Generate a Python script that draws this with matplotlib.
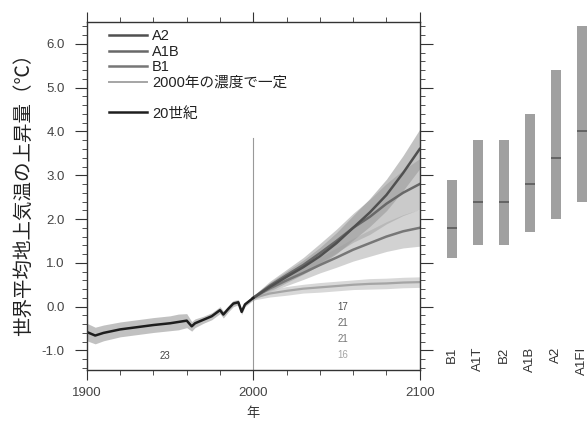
import matplotlib
matplotlib.use("Agg")
import matplotlib.pyplot as plt
from matplotlib.lines import Line2D
import numpy as np

plt.rcParams['font.family'] = ['Liberation Sans', 'Noto Sans CJK JP', 'DejaVu Sans']

# 20世紀
hist_years = [1900, 1905, 1910, 1920, 1930, 1940, 1950, 1955, 1960, 1963, 1965,
              1970, 1975, 1980, 1982, 1985, 1988, 1991, 1993, 1995, 2000]
hist_vals = [-0.58, -0.66, -0.6, -0.52, -0.47, -0.42, -0.38, -0.35, -0.32, -0.45, -0.38,
             -0.3, -0.22, -0.08, -0.18, -0.05, 0.07, 0.1, -0.12, 0.05, 0.2]
hist_spread = [0.2, 0.19, 0.18, 0.17, 0.17, 0.17, 0.17, 0.18, 0.16, 0.11, 0.1,
               0.08, 0.08, 0.08, 0.08, 0.07, 0.07, 0.06, 0.06, 0.05, 0.05]

# シナリオ
fut_years = [2000, 2010, 2020, 2030, 2040, 2050, 2060, 2070, 2080, 2090, 2100]
a2 = [0.2, 0.45, 0.68, 0.9, 1.15, 1.45, 1.8, 2.15, 2.55, 3.05, 3.6]
a1b = [0.2, 0.48, 0.72, 0.95, 1.22, 1.5, 1.8, 2.05, 2.35, 2.6, 2.8]
b1 = [0.2, 0.42, 0.6, 0.77, 0.95, 1.12, 1.3, 1.45, 1.6, 1.72, 1.8]
const = [0.2, 0.3, 0.36, 0.41, 0.44, 0.47, 0.5, 0.52, 0.53, 0.55, 0.56]
a2_spread = [0.05, 0.1, 0.13, 0.16, 0.2, 0.24, 0.28, 0.32, 0.36, 0.4, 0.45]
a1b_spread = [0.05, 0.1, 0.13, 0.17, 0.22, 0.27, 0.33, 0.4, 0.46, 0.52, 0.58]
b1_spread = [0.05, 0.09, 0.12, 0.15, 0.18, 0.22, 0.26, 0.3, 0.34, 0.38, 0.42]
const_spread = [0.05, 0.08, 0.1, 0.1, 0.11, 0.11, 0.11, 0.12, 0.12, 0.12, 0.12]

# モデル数
n_models = ['17', '21', '21', '16']
n_hist = '23'

# 右側の棒 (2090-2099 の予測範囲)
bar_names = ['B1', 'A1T', 'B2', 'A1B', 'A2', 'A1FI']
bar_best = [1.8, 2.4, 2.4, 2.8, 3.4, 4.0]
bar_low = [1.1, 1.4, 1.4, 1.7, 2.0, 2.4]
bar_high = [2.9, 3.8, 3.8, 4.4, 5.4, 6.4]

c_a2 = '#505050'
c_a1b = '#686868'
c_b1 = '#777777'
c_const = '#a5a5a5'
c_hist = '#1e1e1e'
c_ax = '#333333'

fig = plt.figure(figsize=(5.87, 4.23), dpi=100)
ax = fig.add_axes([0.148, 0.125, 0.567, 0.823])

hy = np.array(hist_years)
hv = np.array(hist_vals)
hs = np.array(hist_spread)
fy = np.array(fut_years)

ax.fill_between(hy, hv - hs, hv + hs, color='#999999', alpha=0.6, lw=0)
ax.fill_between(fy, np.array(b1) - b1_spread, np.array(b1) + b1_spread, color='#b5b5b5', alpha=0.6, lw=0)
ax.fill_between(fy, np.array(a1b) - a1b_spread, np.array(a1b) + a1b_spread, color='#a8a8a8', alpha=0.6, lw=0)
ax.fill_between(fy, np.array(a2) - a2_spread, np.array(a2) + a2_spread, color='#9a9a9a', alpha=0.6, lw=0)
ax.fill_between(fy, np.array(const) - const_spread, np.array(const) + const_spread, color='#c8c8c8', alpha=0.7, lw=0)

ax.axvline(2000, ymin=0, ymax=(3.85 + 1.45) / 7.95, color='#999999', lw=0.8)

ax.plot(fy, const, color=c_const, lw=1.6)
ax.plot(fy, b1, color=c_b1, lw=1.8)
ax.plot(fy, a1b, color=c_a1b, lw=1.8)
ax.plot(fy, a2, color=c_a2, lw=1.8)
ax.plot(hy, hv, color=c_hist, lw=1.8)

ax.text(1947, -1.12, n_hist, color='#444444', fontsize=7, ha='center', va='center')
num_colors = [c_a2, c_a1b, c_b1, c_const]
for i, (n, c) in enumerate(zip(n_models, num_colors)):
    ax.text(2054, 0.0 - 0.37 * i, n, color=c, fontsize=7, ha='center', va='center')

ax.set_xlim(1900, 2100)
ax.set_ylim(-1.45, 6.5)
ax.set_xticks([1900, 2000, 2100])
ax.set_xticks(np.arange(1900, 2101, 20), minor=True)
ax.set_yticks(np.arange(-1, 6.1, 1))
ax.set_yticks(np.arange(-1.4, 6.5, 0.2), minor=True)
ax.set_yticklabels(['%.1f' % v for v in np.arange(-1, 6.1, 1)])
ax.tick_params(which='both', direction='out', color=c_ax, labelsize=9.5, labelcolor='#444444',
               top=True, right=True)
ax.tick_params(which='major', length=7)
ax.tick_params(which='minor', length=3.5)
ax.tick_params(axis='y', which='major', length=9, pad=7)
ax.tick_params(axis='x', which='major', pad=5)
for s in ax.spines.values():
    s.set_color(c_ax)
    s.set_linewidth(1.0)

ax.set_xlabel('年', fontsize=9.5, color='#333333', labelpad=6)
ax.set_ylabel('世界平均地上気温の上昇量（℃）', fontsize=14, color='#222222')
ax.yaxis.set_label_coords(-0.162, 0.517)

handles = [Line2D([], [], color=c_a2, lw=1.8),
           Line2D([], [], color=c_a1b, lw=1.8),
           Line2D([], [], color=c_b1, lw=1.8),
           Line2D([], [], color=c_const, lw=1.4),
           Line2D([], [], color='none'),
           Line2D([], [], color=c_hist, lw=1.8)]
labels = ['A2', 'A1B', 'B1', '2000年の濃度で一定', '', '20世紀']
leg = ax.legend(handles, labels, loc='upper left', bbox_to_anchor=(0.045, 1.0), frameon=False,
                fontsize=10.5, handlelength=2.6, handletextpad=0.33, labelspacing=0.1,
                borderaxespad=0.1)
for t in leg.get_texts():
    t.set_color('#222222')

# 右側パネル
bx = fig.add_axes([0.719, 0.125, 0.281, 0.823], sharey=ax)
pos = np.arange(len(bar_names))
bx.bar(pos, np.array(bar_high) - np.array(bar_low), bottom=bar_low, width=0.38,
       color='#a0a0a0', edgecolor='none')
bx.hlines(bar_best, pos - 0.19, pos + 0.19, color='#5a5a5a', lw=1.2)
for p, name in zip(pos, bar_names):
    bx.text(p, -0.92, name, rotation=90, ha='center', va='top', fontsize=9.5, color='#333333')
bx.set_xlim(-1.15, 5.19)
bx.axis('off')

fig.savefig('out.png', dpi=100)
